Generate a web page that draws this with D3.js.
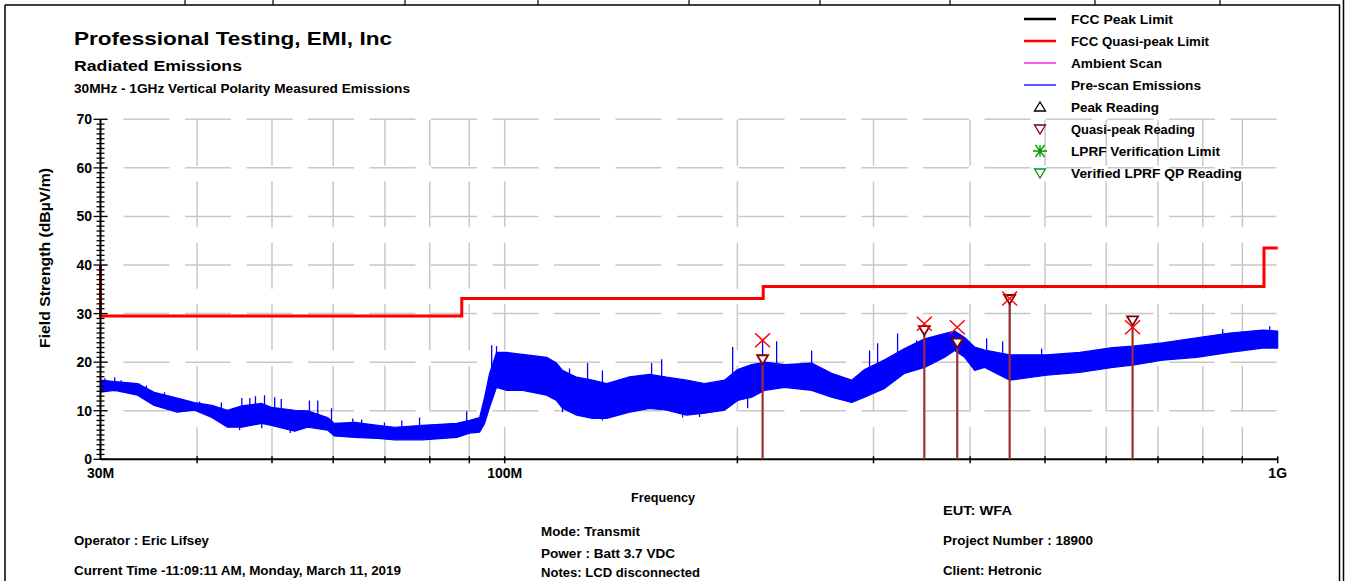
<!DOCTYPE html>
<html><head><meta charset="utf-8">
<script src="https://cdn.jsdelivr.net/npm/d3@7"></script>
<style>
html,body{margin:0;padding:0;background:#fff;}
svg{display:block;font-family:"Liberation Sans",Arial,sans-serif;font-weight:bold;}
</style></head>
<body>
<svg id="chart" width="1350" height="581"></svg>
<script>
// ---------- data ----------
const yTicks = [0,10,20,30,40,50,60,70];
const xTickLabels = [[30,"30M"],[100,"100M"],[1000,"1G"]];
const xGridMHz = [40,50,60,70,80,90,100,200,300,400,500,600,700,800,900];

// FCC quasi-peak limit (step line)
const limitMHz   = [30, 30, 88, 88, 216, 216, 960, 960, 1000];
const limitLevel = [40, 29.5, 29.5, 33.1, 33.1, 35.6, 35.6, 43.5, 43.5];

// Pre-scan emissions envelope
const prescanMHz = [30,31.3,33.5,35.2,37.7,39.7,41.8,43.8,45.7,48.5,49.9,53.5,55.6,59.0,60.2,64.0,68.5,72.1,78.3,86.7,
  90.1,92.8,94.2,95.6,97.6,100.6,105.5,113.3,116.7,118.8,123.9,129.9,135.5,145.1,154.0,162.0,171.9,181.4,192.5,200.1,
  208.7,216.9,230.2,249.5,264.8,281.1,292.1,310.1,329.1,349.3,370.8,382.0,393.6,405.5,417.8,450.2,502.5,554.5,611.8,649.3,
  709.8,785.6,866.8,956.4,1000];
const prescanHigh = [16.3,16.0,15.6,13.8,12.6,11.7,11.1,10.1,11.0,11.5,10.7,10.1,10.0,8.6,7.4,7.6,7.0,6.6,7.0,7.4,
  8.0,8.6,12.8,17.7,22.0,22.0,21.6,21.0,19.8,18.3,16.9,16.3,15.6,17.0,17.5,16.9,16.3,15.6,16.3,18.5,
  19.5,20.0,19.5,19.8,17.7,16.3,18.5,20.5,22.8,24.8,25.9,26.4,25.1,23.1,22.5,21.5,21.5,22.0,23.0,23.3,
  24.0,25.0,26.0,26.6,26.4];
const prescanLow = [13.8,14.2,13.2,11.1,9.7,10.1,8.6,6.6,6.6,7.4,7.0,5.8,6.6,6.0,4.8,4.5,4.3,4.0,4.0,4.5,
  5.4,5.6,7.4,10.7,14.8,14.2,14.2,13.2,12.1,10.5,9.1,8.4,8.4,9.7,10.5,10.1,9.1,9.5,10.1,12.1,
  12.8,14.2,14.8,14.2,12.8,11.7,12.8,14.6,17.7,18.9,21.0,22.4,21.0,18.3,18.9,16.3,17.3,17.9,18.9,19.4,
  20.4,21.0,22.0,22.9,22.9];

// Isolated spikes in the pre-scan (from -> to, dBµV/m)
const spikeMHz  = [31.3,33.7,45.7,48.9,55.9,59.7,63.6,77.6,89.3,97.6,128.0,154.9,159.6,197.2,215.6,224.8,249.5,296.5,303.7,322.3,341.1,420.2,440.7,450,495.0,848.9,976.6,
  30.4,31.9,34.4,36.3,38.5,40.3,43.0,46.8,47.6,50.4,51.4,57.3,65.3,69.9,73.6,84.9,96.2,121.3,133.8,164.9,167.8,
  45.4,48.5,52.8,118.8,133.8,169.9,206.2,178.7];
const spikeTop  = [16.9,15.6,12.6,13.2,12.1,10.5,8.4,8.6,9.9,23.3,19.8,19.8,20.6,23.1,24.5,24.3,22.4,22.4,23.9,25.9,24.5,24.9,24.3,33.0,22.8,26.8,27.4,
  16.7,16.3,15.2,13.8,12.1,11.9,11.7,12.6,13.0,12.8,12.4,12.1,8.2,7.6,8.0,7.0,23.5,18.7,18.3,16.7,16.3,
  9.0,9.0,8.0,14.0,13.0,13.0,15.0,12.0];
const spikeBase = [14,13,8,9,8,7,6,5,6,16,12,12,13,14,16,16,16,14,16,18,20,20,18,20,19,23,24,
  14.5,14.5,13.5,12,10,10,9,9,9,9,9,8,6,5.5,6,5.5,18,13,13,12,12,
  6.0,6.4,5.4,9.7,8.0,8.6,10.5,8.7];

// Final readings
const markerMHz = [215.6, 349, 385, 450, 649];
const qpLevel   = [20.5, 26.5, 23.9, 32.9, 28.5];
const peakLevel = [24.5, 27.9, 27.2, 33.1, 27.2];

const legendItems = ["FCC Peak Limit","FCC Quasi-peak Limit","Ambient Scan","Pre-scan Emissions","Peak Reading","Quasi-peak Reading","LPRF Verification Limit","Verified LPRF QP Reading"];

// ---------- drawing ----------
const svg = d3.select("#chart");
const x = d3.scaleLog().domain([30,1000]).range([100.5,1277.7]);
const y = d3.scaleLinear().domain([0,70]).range([459.3,119.3]);

// page border with header ticks
const borderTicks = [185,273,405,538,689,820,950,1095,1220];
svg.append("line").attr("x1",5).attr("x2",1340).attr("y1",5).attr("y2",5).attr("stroke","#000").attr("stroke-width",1.5);
svg.selectAll(".bt").data(borderTicks).join("line")
  .attr("x1",d=>d).attr("x2",d=>d).attr("y1",0).attr("y2",5).attr("stroke","#000").attr("stroke-width",1.2);
svg.append("line").attr("x1",5).attr("x2",5).attr("y1",5).attr("y2",581).attr("stroke","#000").attr("stroke-width",1.5);
svg.append("line").attr("x1",1339.5).attr("x2",1339.5).attr("y1",5).attr("y2",581).attr("stroke","#000").attr("stroke-width",1.5);
svg.append("line").attr("x1",1343.5).attr("x2",1343.5).attr("y1",0).attr("y2",581).attr("stroke","#000").attr("stroke-width",1.5);

// titles
function txt(s,xx,yy,size,len,anchor){
  const t = svg.append("text").attr("x",xx).attr("y",yy).attr("font-size",size).attr("fill","#000").text(s);
  if(anchor) t.attr("text-anchor",anchor);
  if(len) t.attr("textLength",len).attr("lengthAdjust","spacingAndGlyphs");
  return t;
}
txt("Professional Testing, EMI, Inc",74,45,18,318);
txt("Radiated Emissions",74,71,14.5,168);
txt("30MHz - 1GHz Vertical Polarity Measured Emissions",74,93,12,336);

// grid
const g = svg.append("g");
g.selectAll(".hg").data(yTicks.filter(d=>d>0)).join("line")
  .attr("x1",x(30)).attr("x2",x(1000)).attr("y1",d=>y(d)).attr("y2",d=>y(d))
  .attr("stroke","#c8c8c8").attr("stroke-width",1.5).attr("stroke-dasharray","46,15.5").attr("stroke-dashoffset",38.5);
g.selectAll(".vg").data(xGridMHz).join("line")
  .attr("x1",d=>x(d)).attr("x2",d=>x(d)).attr("y1",y(0)).attr("y2",y(70))
  .attr("stroke","#c8c8c8").attr("stroke-width",1.5).attr("stroke-dasharray","46,15.5").attr("stroke-dashoffset",14);

// limit line
const limitPts = limitMHz.map((f,i)=>[f,limitLevel[i]]);
svg.append("path").datum(limitPts)
  .attr("d",d3.line().x(d=>x(d[0])).y(d=>y(d[1])))
  .attr("fill","none").attr("stroke","#ff0000").attr("stroke-width",3);

// pre-scan
const scan = prescanMHz.map((f,i)=>({f,lo:prescanLow[i],hi:prescanHigh[i]}));
svg.append("path").datum(scan)
  .attr("d",d3.area().x(d=>x(d.f)).y0(d=>y(d.lo)).y1(d=>y(d.hi)))
  .attr("fill","#0000ff").attr("stroke","#0000ff").attr("stroke-width",1.2).attr("stroke-linejoin","round");
svg.selectAll(".spk").data(spikeMHz).join("line")
  .attr("x1",d=>x(d)).attr("x2",d=>x(d))
  .attr("y1",(d,i)=>y(spikeTop[i])).attr("y2",(d,i)=>y(spikeBase[i]))
  .attr("stroke","#0000ff").attr("stroke-width",1.3);

// axes
const ax = svg.append("g");
ax.append("line").attr("x1",x(30)).attr("x2",x(1000)).attr("y1",y(0)).attr("y2",y(0)).attr("stroke","#000").attr("stroke-width",2);
ax.append("line").attr("x1",x(30)).attr("x2",x(30)).attr("y1",y(0)).attr("y2",y(70)).attr("stroke","#000").attr("stroke-width",2);
const minor = d3.range(0,71);
ax.selectAll(".ym").data(minor).join("line")
  .attr("x1",d=>d%10===0?x(30)-7:x(30)-4).attr("x2",d=>d%10===0?x(30)+7:x(30)+4)
  .attr("y1",d=>y(d)).attr("y2",d=>y(d)).attr("stroke","#000").attr("stroke-width",1.3);
ax.selectAll(".yl").data(yTicks).join("text")
  .attr("x",92).attr("y",d=>y(d)+5).attr("text-anchor","end").attr("font-size",14).text(d=>d);
ax.selectAll(".xt").data(xGridMHz.concat([1000])).join("line")
  .attr("x1",d=>x(d)).attr("x2",d=>x(d)).attr("y1",y(0)-3).attr("y2",y(0)+4).attr("stroke","#000").attr("stroke-width",1.5);
ax.selectAll(".xl").data(xTickLabels).join("text")
  .attr("x",d=>x(d[0])).attr("y",478).attr("text-anchor","middle").attr("font-size",14).text(d=>d[1]);
svg.append("text").attr("transform","translate(50,258) rotate(-90)").attr("text-anchor","middle")
  .attr("font-size",14).attr("textLength",180).attr("lengthAdjust","spacingAndGlyphs").text("Field Strength (dBµV/m)");

// markers
const mk = svg.append("g");
markerMHz.forEach((f,i)=>{
  const cx = x(f), qy = y(qpLevel[i]), py = y(peakLevel[i]);
  mk.append("line").attr("x1",cx).attr("x2",cx).attr("y1",y(0)).attr("y2",qy)
    .attr("stroke","#9b3030").attr("stroke-width",2.2);
  mk.append("path").attr("d",`M${cx-5.5},${qy-4.5}L${cx+5.5},${qy-4.5}L${cx},${qy+4.5}Z`)
    .attr("fill","#fff").attr("stroke","#800000").attr("stroke-width",1.8);
  mk.append("path").attr("d",`M${cx-7.5},${py-7}L${cx+7.5},${py+7}M${cx+7.5},${py-7}L${cx-7.5},${py+7}`)
    .attr("stroke","#ff0000").attr("stroke-width",1.5).attr("fill","none");
});

// legend
const lg = svg.append("g");
const rowY = i => 19 + i*22;
const legendLen = [102,138,91,130,88,124,149,171];
lg.selectAll("text").data(legendItems).join("text")
  .attr("x",1071).attr("y",(d,i)=>rowY(i)+5).attr("font-size",13.5)
  .attr("textLength",(d,i)=>legendLen[i]).attr("lengthAdjust","spacingAndGlyphs").text(d=>d);
lg.append("line").attr("x1",1024).attr("x2",1056).attr("y1",rowY(0)).attr("y2",rowY(0)).attr("stroke","#000").attr("stroke-width",2.5);
lg.append("line").attr("x1",1024).attr("x2",1056).attr("y1",rowY(1)).attr("y2",rowY(1)).attr("stroke","#ff0000").attr("stroke-width",2.5);
lg.append("line").attr("x1",1024).attr("x2",1056).attr("y1",rowY(2)).attr("y2",rowY(2)).attr("stroke","#ff00ff").attr("stroke-width",1.3);
lg.append("line").attr("x1",1024).attr("x2",1056).attr("y1",rowY(3)).attr("y2",rowY(3)).attr("stroke","#0000ff").attr("stroke-width",1.3);
const lx = 1040;
lg.append("path").attr("d",`M${lx-5.5},${rowY(4)+4}L${lx+5.5},${rowY(4)+4}L${lx},${rowY(4)-5}Z`).attr("fill","none").attr("stroke","#000").attr("stroke-width",1.3);
lg.append("path").attr("d",`M${lx-5.5},${rowY(5)-4}L${lx+5.5},${rowY(5)-4}L${lx},${rowY(5)+5}Z`).attr("fill","none").attr("stroke","#800000").attr("stroke-width",1.3);
lg.append("path").attr("d",`M${lx-7},${rowY(6)}L${lx+7},${rowY(6)}M${lx-4.5},${rowY(6)-6}L${lx+4.5},${rowY(6)+6}M${lx+4.5},${rowY(6)-6}L${lx-4.5},${rowY(6)+6}M${lx},${rowY(6)-6}L${lx},${rowY(6)+6}`).attr("fill","none").attr("stroke","#009900").attr("stroke-width",1.3);
lg.append("path").attr("d",`M${lx-5.5},${rowY(7)-4}L${lx+5.5},${rowY(7)-4}L${lx},${rowY(7)+5}Z`).attr("fill","none").attr("stroke","#009900").attr("stroke-width",1.3);

// footer info
txt("Frequency",663,502,12.5,64,"middle");
txt("EUT: WFA",943,515,12.5,69);
txt("Operator : Eric Lifsey",74,545,12.5,135);
txt("Mode: Transmit",541,536,12.5,99);
txt("Power : Batt 3.7 VDC",541,558,12.5,134);
txt("Notes: LCD disconnected",541,577,12.5,159);
txt("Project Number : 18900",943,545,12.5,150);
txt("Current Time -11:09:11 AM, Monday, March 11, 2019",74,575,12.5,327);
txt("Client: Hetronic",943,575,12.5,99);
</script>
</body></html>
